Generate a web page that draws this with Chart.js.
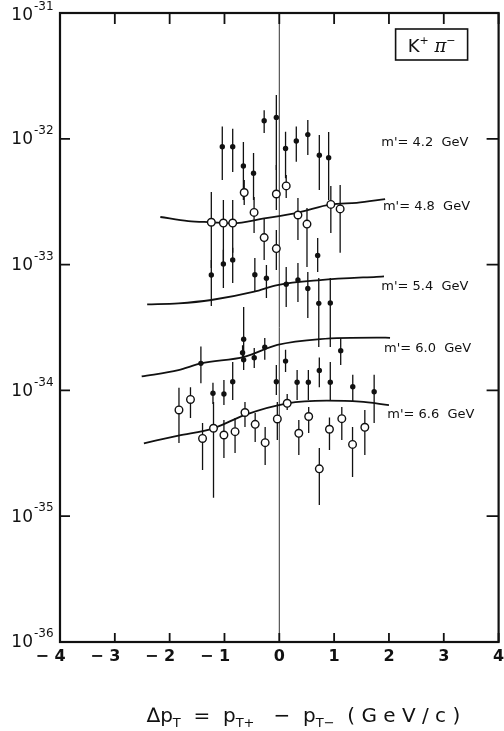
<!DOCTYPE html>
<html>
<head>
<meta charset="utf-8">
<script src="https://cdn.jsdelivr.net/npm/chart.js@4.4.0/dist/chart.umd.min.js"></script>
<style>
  html, body { margin: 0; padding: 0; background: #fff; }
  #wrap { width: 504px; height: 731px; }
</style>
</head>
<body>
<div id="wrap"><canvas id="kpiChart" width="504" height="731"></canvas></div>
<script>
// axis ticks
var xTicks = [-4, -3, -2, -1, 0, 1, 2, 3, 4];
var yTicks = [1e-31, 1e-32, 1e-33, 1e-34, 1e-35, 1e-36];
var yTickExp = ['-31', '-32', '-33', '-34', '-35', '-36'];

// full dots: delta pT, cross section, error bar ends
var fullX = [-1.04, -0.85, -0.655, -0.47, -0.276, -0.054, 0.114, 0.31, 0.52, 0.73, 0.90,
    -1.24, -1.02, -0.85, -0.446, -0.235, 0.126, 0.34, 0.52, 0.72, 0.93, 0.70,
    -1.43, -0.65, -0.67, -0.65, -0.457, -0.265, 0.114, 1.12, -0.85, -1.01, -1.21, -0.054, 0.325, 0.53, 0.73, 0.93, 1.34, 1.73];
var fullY = [8.65e-33, 8.65e-33, 6.08e-33, 5.32e-33, 1.39e-32, 1.48e-32, 8.37e-33, 9.61e-33, 1.08e-32, 7.39e-33, 7.08e-33,
    8.27e-34, 1.01e-33, 1.09e-33, 8.31e-34, 7.78e-34, 6.97e-34, 7.54e-34, 6.46e-34, 4.92e-34, 4.95e-34, 1.18e-33,
    1.64e-34, 2.55e-34, 1.99e-34, 1.75e-34, 1.82e-34, 2.2e-34, 1.71e-34, 2.07e-34, 1.17e-34, 9.36e-35, 9.48e-35, 1.17e-34, 1.16e-34, 1.16e-34, 1.44e-34, 1.16e-34, 1.07e-34, 9.76e-35];
var fullHi = [1.25e-32, 1.2e-32, 9.43e-33, 7.71e-33, 1.69e-32, 2.23e-32, 1.14e-32, 1.25e-32, 1.41e-32, 1.07e-32, 1.13e-32,
    1.09e-33, 1.31e-33, 1.36e-33, 1.13e-33, 9.93e-34, 9.57e-34, 1.03e-33, 8.73e-34, 7.82e-34, 7.82e-34, 1.63e-33,
    2.23e-34, 4.6e-34, 2.28e-34, 2.02e-34, 2.17e-34, 2.61e-34, 2.1e-34, 2.61e-34, 1.68e-34, 1.21e-34, 1.15e-34, 1.59e-34, 1.45e-34, 1.45e-34, 1.83e-34, 1.68e-34, 1.33e-34, 1.33e-34];
var fullLo = [4.7e-33, 5.45e-33, 3.26e-33, 3.26e-33, 1.11e-32, 5.65e-33, 4.85e-33, 6.58e-33, 7.43e-33, 3.92e-33, 3.26e-33,
    4.69e-34, 6.52e-34, 7.14e-34, 6.05e-34, 5.42e-34, 4.6e-34, 5.04e-34, 3.76e-34, 2.21e-34, 2.21e-34, 8.73e-34,
    1.14e-34, 2.02e-34, 1.68e-34, 1.45e-34, 1.51e-34, 1.75e-34, 1.4e-34, 1.59e-34, 8.39e-35, 7.66e-35, 7.8e-35, 9.19e-35, 8.39e-35, 8.39e-35, 1.06e-34, 8.39e-35, 8.09e-35, 5.51e-35];

// open circles
var openX = [-1.24, -1.02, -0.85, -0.64, -0.46, -0.276, -0.054, -0.054, 0.126, 0.34, 0.505, 0.94, 1.11,
    -1.83, -1.62, -1.40, -1.20, -1.01, -0.807, -0.626, -0.44, -0.258, -0.036, 0.144, 0.356, 0.536, 0.73, 0.915, 1.14, 1.336, 1.56];
var openY = [2.17e-33, 2.14e-33, 2.14e-33, 3.74e-33, 2.6e-33, 1.64e-33, 3.64e-33, 1.34e-33, 4.22e-33, 2.48e-33, 2.1e-33, 3.01e-33, 2.77e-33,
    6.99e-35, 8.47e-35, 4.15e-35, 5.0e-35, 4.42e-35, 4.7e-35, 6.67e-35, 5.37e-35, 3.84e-35, 5.93e-35, 7.9e-35, 4.56e-35, 6.2e-35, 2.38e-35, 4.91e-35, 5.96e-35, 3.72e-35, 5.09e-35];
var openHi = [3.78e-33, 3.26e-33, 3.26e-33, 4.7e-33, 3.45e-33, 2.35e-33, 6.19e-33, 1.88e-33, 5.16e-33, 3.38e-33, 2.82e-33, 4.22e-33, 4.29e-33,
    1.05e-34, 1.06e-34, 5.51e-35, 8.09e-35, 5.82e-35, 6.03e-35, 8.09e-35, 6.61e-35, 5.12e-35, 8.09e-35, 9.36e-35, 5.82e-35, 7.38e-35, 3.48e-35, 6.09e-35, 7.38e-35, 5.12e-35, 6.99e-35];
var openLo = [9.4e-34, 1.03e-33, 1.24e-33, 2.98e-33, 1.78e-33, 1.09e-33, 2.72e-33, 9.06e-34, 3.38e-33, 1.57e-33, 9.57e-34, 1.78e-33, 1.24e-33,
    3.82e-35, 6.03e-35, 2.33e-35, 1.4e-35, 2.9e-35, 3.18e-35, 5.12e-35, 3.89e-35, 2.55e-35, 4.03e-35, 6.99e-35, 3.07e-35, 4.59e-35, 1.23e-35, 3.36e-35, 4.03e-35, 2.05e-35, 3.07e-35];

// model curves for each m'
var curve48X = [-2.17, -1.66, -1.245, -0.85, -0.276, 0.34, 0.94, 1.41, 1.93];
var curve48Y = [2.39e-33, 2.22e-33, 2.17e-33, 2.13e-33, 2.33e-33, 2.59e-33, 3.01e-33, 3.1e-33, 3.32e-33];
var curve54X = [-2.41, -1.84, -1.24, -0.457, -0.036, 0.745, 1.77, 1.91];
var curve54Y = [4.83e-34, 4.92e-34, 5.23e-34, 6.09e-34, 6.88e-34, 7.54e-34, 8.0e-34, 8.05e-34];
var curve60X = [-2.51, -1.84, -1.43, -0.637, -0.036, 0.745, 1.77, 2.02];
var curve60Y = [1.29e-34, 1.45e-34, 1.64e-34, 1.85e-34, 2.3e-34, 2.56e-34, 2.63e-34, 2.62e-34];
var curve66X = [-2.47, -1.84, -1.2, -0.637, 0.144, 0.866, 1.47, 2.0];
var curve66Y = [3.8e-35, 4.37e-35, 5.0e-35, 6.37e-35, 7.9e-35, 8.28e-35, 8.13e-35, 7.65e-35];

// m' labels
var massLabels = ["m'= 4.2  GeV", "m'= 4.8  GeV", "m'= 5.4  GeV", "m'= 6.0  GeV", "m'= 6.6  GeV"];
var labelX = [1.86, 1.89, 1.86, 1.91, 1.97];
var labelY = [9.27e-33, 2.87e-33, 6.67e-34, 2.13e-34, 6.37e-35];

function pts(xs, ys, lo, hi) {
    return xs.map(function (x, i) {
        var p = { x: x, y: ys[i] };
        if (lo) { p.lo = lo[i]; p.hi = hi[i]; }
        return p;
    });
}

function curveSet(xs, ys) {
    return {
        data: pts(xs, ys),
        showLine: true,
        borderColor: '#111',
        borderWidth: 1.8,
        pointRadius: 0,
        cubicInterpolationMode: 'monotone',
        fill: false
    };
}

// vertical bars drawn beneath the markers
var errorBars = {
    id: 'errorBars',
    beforeDatasetsDraw: function (chart) {
        var ctx = chart.ctx, xs = chart.scales.x, ys = chart.scales.y, a = chart.chartArea;
        ctx.save();
        ctx.beginPath();
        ctx.rect(a.left, a.top, a.right - a.left, a.bottom - a.top);
        ctx.clip();
        ctx.strokeStyle = '#111';
        ctx.lineWidth = 1.3;
        chart.data.datasets.forEach(function (ds) {
            ds.data.forEach(function (p) {
                if (p.lo === undefined) return;
                var px = xs.getPixelForValue(p.x);
                ctx.beginPath();
                ctx.moveTo(px, ys.getPixelForValue(p.hi));
                ctx.lineTo(px, ys.getPixelForValue(p.lo));
                ctx.stroke();
            });
        });
        ctx.restore();
    }
};

// frame, inward ticks, labels and notes
var frameAndText = {
    id: 'frameAndText',
    afterDraw: function (chart) {
        var ctx = chart.ctx, xs = chart.scales.x, ys = chart.scales.y, a = chart.chartArea;
        ctx.save();
        ctx.strokeStyle = '#111';
        ctx.fillStyle = '#111';

        ctx.lineWidth = 2.2;
        ctx.strokeRect(a.left, a.top, a.right - a.left, a.bottom - a.top);

        ctx.lineWidth = 1.8;
        xTicks.forEach(function (v) {
            var px = xs.getPixelForValue(v);
            ctx.beginPath();
            ctx.moveTo(px, a.bottom); ctx.lineTo(px, a.bottom - 9);
            ctx.moveTo(px, a.top); ctx.lineTo(px, a.top + 11);
            ctx.stroke();
        });
        yTicks.forEach(function (v) {
            var py = ys.getPixelForValue(v);
            ctx.beginPath();
            ctx.moveTo(a.left, py); ctx.lineTo(a.left + 10, py);
            ctx.moveTo(a.right, py); ctx.lineTo(a.right - 12, py);
            ctx.stroke();
        });

        // x tick labels: digit centred on the tick, minus hanging left
        ctx.font = 'bold 16px "DejaVu Sans"';
        ctx.textBaseline = 'middle';
        ctx.textAlign = 'right';
        var dw = ctx.measureText('0').width;
        xTicks.forEach(function (v) {
            var txt = v < 0 ? '\u2212 ' + Math.abs(v) : String(v);
            ctx.fillText(txt, xs.getPixelForValue(v) + dw / 2, 657);
        });

        // y tick labels 10^n, kept inside the canvas at the top
        yTicks.forEach(function (v, i) {
            var py = ys.getPixelForValue(v);
            var base = Math.max(py + 1, 16);
            ctx.textAlign = 'right';
            ctx.font = '17px "DejaVu Sans"';
            ctx.fillText('10', 33, base);
            ctx.textAlign = 'left';
            ctx.font = '12px "DejaVu Sans"';
            ctx.fillText(yTickExp[i], 34, base - 9);
        });

        // m' labels
        ctx.font = '13px "DejaVu Sans"';
        ctx.textAlign = 'left';
        massLabels.forEach(function (t, i) {
            ctx.fillText(t, xs.getPixelForValue(labelX[i]), ys.getPixelForValue(labelY[i]));
        });

        // channel box
        var bx = a.right - 103, by = a.top + 16, bw = 72, bh = 31;
        ctx.lineWidth = 1.6;
        ctx.strokeRect(bx, by, bw, bh);
        ctx.textBaseline = 'alphabetic';
        var parts = [
            { t: 'K', f: '18px "DejaVu Sans"', dy: 0 },
            { t: '+', f: '11px "DejaVu Sans"', dy: -8 },
            { t: ' \u03c0', f: 'italic 18px "DejaVu Serif"', dy: 0 },
            { t: '\u2212', f: '11px "DejaVu Sans"', dy: -8 }
        ];
        var tw = 0;
        parts.forEach(function (p) { ctx.font = p.f; tw += ctx.measureText(p.t).width; });
        var cx = bx + (bw - tw) / 2, base = by + 23;
        parts.forEach(function (p) {
            ctx.font = p.f;
            ctx.fillText(p.t, cx, base + p.dy);
            cx += ctx.measureText(p.t).width;
        });

        // x axis title
        var big = '20px "DejaVu Sans"', sub = '13px "DejaVu Sans"';
        var title = [
            { t: '\u2206', f: 'italic 20px "DejaVu Sans"', dy: 0 },
            { t: 'p', f: big, dy: 0 },
            { t: 'T', f: sub, dy: 5 },
            { t: '  =  p', f: big, dy: 0 },
            { t: 'T+', f: sub, dy: 5 },
            { t: '   \u2212  p', f: big, dy: 0 },
            { t: 'T\u2212', f: sub, dy: 5 },
            { t: '  ( G e V / c )', f: big, dy: 0 }
        ];
        tw = 0;
        title.forEach(function (p) { ctx.font = p.f; tw += ctx.measureText(p.t).width; });
        cx = 303.5 - tw / 2;
        title.forEach(function (p) {
            ctx.font = p.f;
            ctx.fillText(p.t, cx, 722 + p.dy);
            cx += ctx.measureText(p.t).width;
        });
        ctx.restore();
    }
};

new Chart(document.getElementById('kpiChart'), {
    type: 'scatter',
    data: {
        datasets: [
            {
                data: pts(openX, openY, openLo, openHi),
                pointStyle: 'circle',
                pointRadius: 3.8,
                pointBackgroundColor: '#fff',
                pointBorderColor: '#111',
                pointBorderWidth: 1.4
            },
            {
                data: pts(fullX, fullY, fullLo, fullHi),
                pointStyle: 'circle',
                pointRadius: 2.7,
                pointBackgroundColor: '#111',
                pointBorderColor: '#111',
                pointBorderWidth: 0
            },
            curveSet(curve48X, curve48Y),
            curveSet(curve54X, curve54Y),
            curveSet(curve60X, curve60Y),
            curveSet(curve66X, curve66Y),
            {
                // line at delta pT = 0
                data: [{ x: 0, y: 1e-36 }, { x: 0, y: 1e-31 }],
                showLine: true,
                borderColor: '#333',
                borderWidth: 1,
                pointRadius: 0
            }
        ]
    },
    options: {
        responsive: false,
        animation: false,
        events: [],
        layout: { padding: { top: 13, right: 3, left: 0, bottom: 0 } },
        plugins: { legend: { display: false }, tooltip: { enabled: false } },
        scales: {
            x: {
                type: 'linear', min: -4, max: 4,
                ticks: { display: false },
                grid: { display: false },
                border: { display: false },
                afterFit: function (s) { s.height = 89; }
            },
            y: {
                type: 'logarithmic', min: 1e-36, max: 1e-31,
                ticks: { display: false },
                grid: { display: false },
                border: { display: false },
                afterFit: function (s) { s.width = 60; }
            }
        }
    },
    plugins: [errorBars, frameAndText]
});
</script>
</body>
</html>
